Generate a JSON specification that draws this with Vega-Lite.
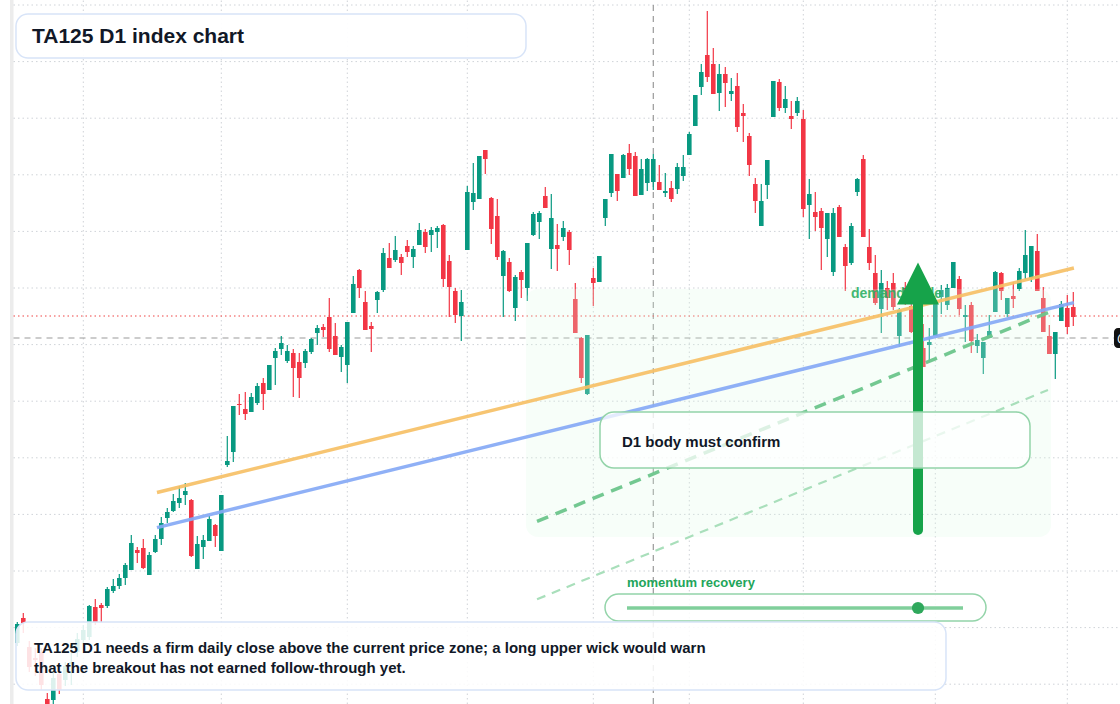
{
"$schema": "https://vega.github.io/schema/vega-lite/v6.json",
"width": 1120, "height": 704, "autosize": {"type": "none"}, "padding": 0,
"background": "white",
"config": {"view": {"stroke": null}},
"data": {"values": [{"note": "annotation"}]},
"datasets": {
"candles": [
{"i":0,"o":2028.5,"h":2039,"l":2027,"c":2038},
{"i":1,"o":2041,"h":2043.5,"l":2033.5,"c":2038.5},
{"i":2,"o":2026.5,"h":2029.5,"l":2014,"c":2016.5},
{"i":3,"o":2021,"h":2026,"l":2012,"c":2020},
{"i":4,"o":2024,"h":2026,"l":2005,"c":2007.5},
{"i":5,"o":2000.5,"h":2003.5,"l":1995,"c":1997},
{"i":6,"o":2000,"h":2014,"l":1998,"c":2011},
{"i":7,"o":2013,"h":2015,"l":2003,"c":2005},
{"i":8,"o":2010,"h":2019,"l":2007,"c":2017},
{"i":9,"o":2018,"h":2027.5,"l":2007.5,"c":2019},
{"i":10,"o":2024,"h":2033.5,"l":2021.5,"c":2030.5},
{"i":11,"o":2030,"h":2037.5,"l":2028,"c":2035},
{"i":12,"o":2031.5,"h":2047.5,"l":2030,"c":2047},
{"i":13,"o":2046.5,"h":2050.5,"l":2037.5,"c":2039},
{"i":14,"o":2047.5,"h":2048.5,"l":2039,"c":2046},
{"i":15,"o":2047,"h":2056.5,"l":2046,"c":2055.5},
{"i":16,"o":2054.5,"h":2060.5,"l":2053.5,"c":2057},
{"i":17,"o":2057,"h":2063,"l":2055.5,"c":2061},
{"i":18,"o":2061,"h":2068.5,"l":2057.5,"c":2067.5},
{"i":19,"o":2065,"h":2082.5,"l":2065,"c":2078.5},
{"i":20,"o":2075,"h":2076.5,"l":2068.5,"c":2073.5},
{"i":21,"o":2076,"h":2080.5,"l":2065.5,"c":2066},
{"i":22,"o":2062.5,"h":2074,"l":2062.5,"c":2072.5},
{"i":23,"o":2074,"h":2082.5,"l":2073.5,"c":2080.5},
{"i":24,"o":2080.5,"h":2091.5,"l":2077.5,"c":2088.5},
{"i":25,"o":2091,"h":2096,"l":2088.5,"c":2094},
{"i":26,"o":2094.5,"h":2103,"l":2094,"c":2099.5},
{"i":27,"o":2098.5,"h":2107,"l":2096,"c":2101},
{"i":28,"o":2102.5,"h":2108.5,"l":2097.5,"c":2104.5},
{"i":29,"o":2100,"h":2100.5,"l":2071.5,"c":2072},
{"i":30,"o":2065.5,"h":2082,"l":2065.5,"c":2078},
{"i":31,"o":2076.5,"h":2082.5,"l":2070.5,"c":2080},
{"i":32,"o":2079.5,"h":2092,"l":2079.5,"c":2090.5},
{"i":33,"o":2087.5,"h":2088,"l":2076.5,"c":2082},
{"i":34,"o":2074.5,"h":2102.5,"l":2074.5,"c":2102.5},
{"i":35,"o":2117.5,"h":2132,"l":2116.5,"c":2119.5},
{"i":36,"o":2124,"h":2147,"l":2119,"c":2147},
{"i":37,"o":2148,"h":2153,"l":2142.5,"c":2147.5},
{"i":38,"o":2145.5,"h":2154,"l":2140,"c":2143},
{"i":39,"o":2144,"h":2153.5,"l":2144,"c":2151.5},
{"i":40,"o":2148.5,"h":2158.5,"l":2147.5,"c":2157},
{"i":41,"o":2158.5,"h":2161,"l":2145,"c":2153},
{"i":42,"o":2155,"h":2167.5,"l":2155,"c":2167.5},
{"i":43,"o":2171,"h":2176,"l":2157.5,"c":2174.5},
{"i":44,"o":2175.5,"h":2182,"l":2172.5,"c":2178.5},
{"i":45,"o":2169.5,"h":2177.5,"l":2168.5,"c":2174.5},
{"i":46,"o":2173.5,"h":2175.5,"l":2151.5,"c":2166},
{"i":47,"o":2169,"h":2173.5,"l":2151,"c":2161},
{"i":48,"o":2168.5,"h":2175.5,"l":2166,"c":2174.5},
{"i":49,"o":2174,"h":2181,"l":2173,"c":2180.5},
{"i":50,"o":2183.5,"h":2187.5,"l":2177.5,"c":2186},
{"i":51,"o":2186.5,"h":2188,"l":2181.5,"c":2185},
{"i":52,"o":2191.5,"h":2201,"l":2174,"c":2175.5},
{"i":53,"o":2182,"h":2188.5,"l":2172.5,"c":2172.5},
{"i":54,"o":2171.5,"h":2177.5,"l":2164,"c":2176.5},
{"i":55,"o":2167.5,"h":2189,"l":2158.5,"c":2189},
{"i":56,"o":2193.5,"h":2212,"l":2193.5,"c":2208},
{"i":57,"o":2215,"h":2215.5,"l":2201,"c":2206},
{"i":58,"o":2199,"h":2204.5,"l":2185,"c":2185},
{"i":59,"o":2187,"h":2189,"l":2174,"c":2185.5},
{"i":60,"o":2200,"h":2204.5,"l":2193.5,"c":2204},
{"i":61,"o":2205,"h":2226,"l":2204,"c":2223.5},
{"i":62,"o":2221,"h":2228.5,"l":2216,"c":2216},
{"i":63,"o":2220,"h":2232,"l":2219,"c":2225},
{"i":64,"o":2221.5,"h":2223,"l":2212.5,"c":2218.5},
{"i":65,"o":2227,"h":2230,"l":2221.5,"c":2224},
{"i":66,"o":2221.5,"h":2227,"l":2216,"c":2225.5},
{"i":67,"o":2227.5,"h":2238.5,"l":2227.5,"c":2235},
{"i":68,"o":2234,"h":2235.5,"l":2223.5,"c":2226.5},
{"i":69,"o":2232.5,"h":2236.5,"l":2224,"c":2235},
{"i":70,"o":2234,"h":2237,"l":2226,"c":2236},
{"i":71,"o":2237.5,"h":2238,"l":2206.5,"c":2210.5},
{"i":72,"o":2219.5,"h":2222.5,"l":2191.5,"c":2206.5},
{"i":73,"o":2204.5,"h":2206,"l":2188.5,"c":2192.5},
{"i":74,"o":2192,"h":2205,"l":2179.5,"c":2199},
{"i":75,"o":2225,"h":2257,"l":2225,"c":2254},
{"i":76,"o":2249,"h":2268.5,"l":2245,"c":2253.5},
{"i":77,"o":2250.5,"h":2272,"l":2250.5,"c":2272},
{"i":78,"o":2275,"h":2275,"l":2263,"c":2270.5},
{"i":79,"o":2251,"h":2251.5,"l":2228,"c":2235.5},
{"i":80,"o":2242,"h":2250.5,"l":2220,"c":2221.5},
{"i":81,"o":2212,"h":2225,"l":2191.5,"c":2224.5},
{"i":82,"o":2219,"h":2221,"l":2204,"c":2204.5},
{"i":83,"o":2196,"h":2212.5,"l":2189.5,"c":2211.5},
{"i":84,"o":2214,"h":2215,"l":2201,"c":2210},
{"i":85,"o":2206,"h":2228.5,"l":2199.5,"c":2228.5},
{"i":86,"o":2232.5,"h":2244,"l":2232,"c":2243},
{"i":87,"o":2239,"h":2244.5,"l":2230.5,"c":2243.5},
{"i":88,"o":2252,"h":2256.5,"l":2246,"c":2246},
{"i":89,"o":2225.5,"h":2253,"l":2215.5,"c":2241},
{"i":90,"o":2227.5,"h":2238,"l":2214.5,"c":2225.5},
{"i":91,"o":2231.5,"h":2239.5,"l":2229.5,"c":2236},
{"i":92,"o":2234,"h":2235,"l":2217.5,"c":2225},
{"i":93,"o":2200.5,"h":2208.5,"l":2183.5,"c":2183.5},
{"i":94,"o":2181,"h":2181.5,"l":2158.5,"c":2161},
{"i":95,"o":2153,"h":2182.5,"l":2152.5,"c":2182.5},
{"i":96,"o":2211,"h":2216,"l":2197,"c":2208.5},
{"i":97,"o":2209,"h":2222,"l":2209,"c":2222},
{"i":98,"o":2241,"h":2250.5,"l":2237,"c":2250.5},
{"i":99,"o":2253.5,"h":2273,"l":2251.5,"c":2273},
{"i":100,"o":2263,"h":2263,"l":2249.5,"c":2254.5},
{"i":101,"o":2261,"h":2273,"l":2261,"c":2272.5},
{"i":102,"o":2273.5,"h":2278,"l":2262.5,"c":2265.5},
{"i":103,"o":2272,"h":2274,"l":2252,"c":2252},
{"i":104,"o":2252.5,"h":2270.5,"l":2252.5,"c":2265.5},
{"i":105,"o":2258.5,"h":2271,"l":2254.5,"c":2270.5},
{"i":106,"o":2259,"h":2273,"l":2255,"c":2270.5},
{"i":107,"o":2259,"h":2267.5,"l":2255,"c":2255},
{"i":108,"o":2253.5,"h":2263.5,"l":2251.5,"c":2254.5},
{"i":109,"o":2256,"h":2259.5,"l":2249,"c":2250.5},
{"i":110,"o":2255.5,"h":2268.5,"l":2253,"c":2266.5},
{"i":111,"o":2262,"h":2272.5,"l":2259.5,"c":2266.5},
{"i":112,"o":2272.5,"h":2284,"l":2272.5,"c":2283},
{"i":113,"o":2287,"h":2302.5,"l":2287,"c":2302.5},
{"i":114,"o":2306.5,"h":2318,"l":2302.5,"c":2314},
{"i":115,"o":2322.5,"h":2344.5,"l":2309,"c":2311.5},
{"i":116,"o":2318,"h":2326,"l":2303,"c":2303},
{"i":117,"o":2303.5,"h":2318,"l":2294.5,"c":2313},
{"i":118,"o":2313,"h":2316.5,"l":2296.5,"c":2308.5},
{"i":119,"o":2303,"h":2311,"l":2299.5,"c":2304.5},
{"i":120,"o":2307,"h":2313.5,"l":2284,"c":2286.5},
{"i":121,"o":2293.5,"h":2298,"l":2279,"c":2292},
{"i":122,"o":2282,"h":2283.5,"l":2262,"c":2267.5},
{"i":123,"o":2258,"h":2261,"l":2243.5,"c":2249.5},
{"i":124,"o":2237,"h":2258,"l":2237,"c":2249.5},
{"i":125,"o":2257.5,"h":2270,"l":2250.5,"c":2270},
{"i":126,"o":2291.5,"h":2309.5,"l":2291.5,"c":2309.5},
{"i":127,"o":2309,"h":2310.5,"l":2294.5,"c":2296},
{"i":128,"o":2296,"h":2307,"l":2293.5,"c":2300.5},
{"i":129,"o":2292,"h":2299.5,"l":2285.5,"c":2290.5},
{"i":130,"o":2293.5,"h":2301.5,"l":2292,"c":2299.5},
{"i":131,"o":2290.5,"h":2295,"l":2241.5,"c":2245.5},
{"i":132,"o":2247.5,"h":2260.5,"l":2230.5,"c":2253},
{"i":133,"o":2244,"h":2254,"l":2234.5,"c":2241.5},
{"i":134,"o":2244.5,"h":2246,"l":2215,"c":2236},
{"i":135,"o":2230.5,"h":2243.5,"l":2221.5,"c":2243.5},
{"i":136,"o":2214,"h":2246,"l":2212,"c":2243.5},
{"i":137,"o":2246.5,"h":2247.5,"l":2231.5,"c":2231.5},
{"i":138,"o":2226.5,"h":2228,"l":2204.5,"c":2217},
{"i":139,"o":2218.5,"h":2238.5,"l":2217.5,"c":2237},
{"i":140,"o":2254,"h":2261,"l":2252,"c":2260.5},
{"i":141,"o":2270.5,"h":2272.5,"l":2231.5,"c":2231.5},
{"i":142,"o":2226.5,"h":2235.5,"l":2215,"c":2218.5},
{"i":143,"o":2213.5,"h":2222.5,"l":2197.5,"c":2198.5},
{"i":144,"o":2195.5,"h":2215,"l":2183.5,"c":2208.5},
{"i":145,"o":2206,"h":2209.5,"l":2195,"c":2201},
{"i":146,"o":2208.5,"h":2213.5,"l":2195,"c":2196.5},
{"i":147,"o":2182,"h":2196,"l":2176.5,"c":2195},
{"i":148,"o":2206,"h":2209,"l":2197.5,"c":2200},
{"i":149,"o":2197,"h":2200,"l":2183.5,"c":2184},
{"i":150,"o":2190,"h":2194,"l":2175,"c":2180},
{"i":151,"o":2176,"h":2188,"l":2166.5,"c":2166.5},
{"i":152,"o":2177.5,"h":2186,"l":2169,"c":2179},
{"i":153,"o":2182,"h":2200,"l":2182,"c":2199},
{"i":154,"o":2201.5,"h":2207.5,"l":2193,"c":2205},
{"i":155,"o":2197.5,"h":2208,"l":2195,"c":2206},
{"i":156,"o":2206,"h":2219,"l":2206,"c":2219},
{"i":157,"o":2210.5,"h":2212,"l":2192.5,"c":2195.5},
{"i":158,"o":2191.5,"h":2197.5,"l":2179,"c":2192.5},
{"i":159,"o":2197.5,"h":2199,"l":2173.5,"c":2179.5},
{"i":160,"o":2177,"h":2183,"l":2173.5,"c":2180},
{"i":161,"o":2171,"h":2179,"l":2163,"c":2179},
{"i":162,"o":2181,"h":2192.5,"l":2181,"c":2184.5},
{"i":163,"o":2194,"h":2214.5,"l":2194,"c":2214},
{"i":164,"o":2213.5,"h":2214,"l":2200,"c":2204.5},
{"i":165,"o":2193,"h":2201,"l":2191.5,"c":2201},
{"i":166,"o":2202,"h":2209,"l":2196,"c":2200.5},
{"i":167,"o":2205.5,"h":2216,"l":2204.5,"c":2214.5},
{"i":168,"o":2213.5,"h":2235,"l":2210.5,"c":2222.5},
{"i":169,"o":2211,"h":2227,"l":2209,"c":2227},
{"i":170,"o":2224.5,"h":2233,"l":2204.5,"c":2204.5},
{"i":171,"o":2201,"h":2206.5,"l":2184,"c":2184},
{"i":172,"o":2182,"h":2187.5,"l":2173,"c":2173},
{"i":173,"o":2173,"h":2184,"l":2160.5,"c":2184},
{"i":174,"o":2189.5,"h":2199.5,"l":2189.5,"c":2198},
{"i":175,"o":2196,"h":2202.5,"l":2183,"c":2186.5},
{"i":176,"o":2196.5,"h":2204,"l":2187,"c":2191.5}
],
"hgrid": [{"p":2347.5},{"p":2319.2},{"p":2290.9},{"p":2262.6},{"p":2234.3},{"p":2206.0},{"p":2177.7},{"p":2149.4},{"p":2121.1},{"p":2092.8},{"p":2064.5},{"p":2036.2},{"p":2007.9}],
"vgrid": [{"i":11},{"i":34},{"i":55},{"i":75},{"i":96},{"i":112},{"i":131},{"i":153},{"i":175}],
"trend": [
{"name":"resistance","i0":23.28,"p0":2103.75,"i1":176.1,"p1":2216},
{"name":"support","i0":23.28,"p0":2086.2,"i1":176.1,"p1":2198.7},
{"name":"channel","i0":86.62,"p0":2089.3,"i1":171.78,"p1":2193.65},
{"name":"lower","i0":86.62,"p0":2050.35,"i1":171.78,"p1":2155}
]
},
"layer": [
{"mark": {"type": "rect", "color": "#ececec"},
 "encoding": {
  "x": {"datum": -1.217, "type": "quantitative", "scale": {"domain": [-2.883, 183.783], "nice": false, "zero": false}, "axis": null},
  "x2": {"datum": -0.633},
  "y": {"datum": 1998, "type": "quantitative", "scale": {"domain": [1998, 2350], "nice": false, "zero": false}, "axis": null},
  "y2": {"datum": 2350}}},
{"data": {"name": "hgrid"},
 "mark": {"type": "rule", "color": "#cfd3d8", "strokeWidth": 1, "strokeDash": [1.5, 3]},
 "encoding": {
  "x": {"datum": -0.633, "type": "quantitative", "scale": {"domain": [-2.883, 183.783], "nice": false, "zero": false}, "axis": null},
  "x2": {"datum": 184},
  "y": {"field": "p", "type": "quantitative", "scale": {"domain": [1998, 2350], "nice": false, "zero": false}, "axis": null}}},
{"data": {"name": "vgrid"},
 "mark": {"type": "rule", "color": "#cfd3d8", "strokeWidth": 1, "strokeDash": [1.5, 3]},
 "encoding": {
  "x": {"field": "i", "type": "quantitative", "scale": {"domain": [-2.883, 183.783], "nice": false, "zero": false}, "axis": null},
  "y": {"datum": 1998, "type": "quantitative", "scale": {"domain": [1998, 2350], "nice": false, "zero": false}, "axis": null},
  "y2": {"datum": 2350}}},
{"mark": {"type": "rule", "color": "#9a9a9a", "strokeWidth": 1.2, "strokeDash": [6, 5]},
 "encoding": {
  "x": {"datum": 106, "type": "quantitative", "scale": {"domain": [-2.883, 183.783], "nice": false, "zero": false}, "axis": null},
  "y": {"datum": 1998, "type": "quantitative", "scale": {"domain": [1998, 2350], "nice": false, "zero": false}, "axis": null},
  "y2": {"datum": 2350}}},
{"mark": {"type": "rule", "color": "#9a9a9a", "strokeWidth": 1.2, "strokeDash": [6, 5]},
 "encoding": {
  "x": {"datum": -0.633, "type": "quantitative", "scale": {"domain": [-2.883, 183.783], "nice": false, "zero": false}, "axis": null},
  "x2": {"datum": 182.8},
  "y": {"datum": 2181, "type": "quantitative", "scale": {"domain": [1998, 2350], "nice": false, "zero": false}, "axis": null}}},
{"mark": {"type": "rule", "color": "#ef4444", "strokeWidth": 1.2, "strokeDash": [1.5, 3]},
 "encoding": {
  "x": {"datum": -0.633, "type": "quantitative", "scale": {"domain": [-2.883, 183.783], "nice": false, "zero": false}, "axis": null},
  "x2": {"datum": 184},
  "y": {"datum": 2192, "type": "quantitative", "scale": {"domain": [1998, 2350], "nice": false, "zero": false}, "axis": null}}},
{"data": {"name": "candles"},
 "mark": {"type": "rule", "strokeWidth": 1.2},
 "encoding": {
  "x": {"field": "i", "type": "quantitative", "scale": {"domain": [-2.883, 183.783], "nice": false, "zero": false}, "axis": null},
  "y": {"field": "l", "type": "quantitative", "scale": {"domain": [1998, 2350], "nice": false, "zero": false}, "axis": null},
  "y2": {"field": "h"},
  "color": {"condition": {"test": "datum.c >= datum.o", "value": "#089981"}, "value": "#f23645"}}},
{"data": {"name": "candles"},
 "mark": {"type": "rule", "strokeWidth": 4.6},
 "encoding": {
  "x": {"field": "i", "type": "quantitative", "scale": {"domain": [-2.883, 183.783], "nice": false, "zero": false}, "axis": null},
  "y": {"field": "o", "type": "quantitative", "scale": {"domain": [1998, 2350], "nice": false, "zero": false}, "axis": null},
  "y2": {"field": "c"},
  "color": {"condition": {"test": "datum.c >= datum.o", "value": "#089981"}, "value": "#f23645"}}},
{"mark": {"type": "rect", "color": "#dcfce7", "opacity": 0.24, "cornerRadius": 12},
 "encoding": {
  "x": {"datum": 84.783, "type": "quantitative", "scale": {"domain": [-2.883, 183.783], "nice": false, "zero": false}, "axis": null},
  "x2": {"datum": 172.283},
  "y": {"datum": 2081.5, "type": "quantitative", "scale": {"domain": [1998, 2350], "nice": false, "zero": false}, "axis": null},
  "y2": {"datum": 2205.5}}},
{"data": {"name": "trend"},
 "transform": [{"filter": "datum.name == 'lower'"}],
 "mark": {"type": "rule", "color": "#a9dfbb", "strokeWidth": 2.2, "strokeDash": [9, 7]},
 "encoding": {
  "x": {"field": "i0", "type": "quantitative", "scale": {"domain": [-2.883, 183.783], "nice": false, "zero": false}, "axis": null},
  "x2": {"field": "i1"},
  "y": {"field": "p0", "type": "quantitative", "scale": {"domain": [1998, 2350], "nice": false, "zero": false}, "axis": null},
  "y2": {"field": "p1"}}},
{"data": {"name": "trend"},
 "transform": [{"filter": "datum.name == 'resistance'"}],
 "mark": {"type": "rule", "color": "#f6c066", "opacity": 0.92, "strokeWidth": 3.5},
 "encoding": {
  "x": {"field": "i0", "type": "quantitative", "scale": {"domain": [-2.883, 183.783], "nice": false, "zero": false}, "axis": null},
  "x2": {"field": "i1"},
  "y": {"field": "p0", "type": "quantitative", "scale": {"domain": [1998, 2350], "nice": false, "zero": false}, "axis": null},
  "y2": {"field": "p1"}}},
{"data": {"name": "trend"},
 "transform": [{"filter": "datum.name == 'support'"}],
 "mark": {"type": "rule", "color": "#86a9f5", "opacity": 0.92, "strokeWidth": 3.5},
 "encoding": {
  "x": {"field": "i0", "type": "quantitative", "scale": {"domain": [-2.883, 183.783], "nice": false, "zero": false}, "axis": null},
  "x2": {"field": "i1"},
  "y": {"field": "p0", "type": "quantitative", "scale": {"domain": [1998, 2350], "nice": false, "zero": false}, "axis": null},
  "y2": {"field": "p1"}}},
{"data": {"name": "trend"},
 "transform": [{"filter": "datum.name == 'channel'"}],
 "mark": {"type": "rule", "color": "#6cc58b", "opacity": 0.95, "strokeWidth": 3.5, "strokeDash": [12, 8]},
 "encoding": {
  "x": {"field": "i0", "type": "quantitative", "scale": {"domain": [-2.883, 183.783], "nice": false, "zero": false}, "axis": null},
  "x2": {"field": "i1"},
  "y": {"field": "p0", "type": "quantitative", "scale": {"domain": [1998, 2350], "nice": false, "zero": false}, "axis": null},
  "y2": {"field": "p1"}}},
{"mark": {"type": "text", "text": "demand node", "font": "Liberation Sans", "fontWeight": "bold", "fontSize": 14, "color": "#2fb064", "opacity": 0.9, "align": "left", "baseline": "alphabetic"},
 "encoding": {
  "x": {"datum": 138.95, "type": "quantitative", "scale": {"domain": [-2.883, 183.783], "nice": false, "zero": false}, "axis": null},
  "y": {"datum": 2201, "type": "quantitative", "scale": {"domain": [1998, 2350], "nice": false, "zero": false}, "axis": null}}},
{"mark": {"type": "rule", "color": "#16a34a", "strokeWidth": 10, "strokeCap": "round"},
 "encoding": {
  "x": {"datum": 150.117, "type": "quantitative", "scale": {"domain": [-2.883, 183.783], "nice": false, "zero": false}, "axis": null},
  "y": {"datum": 2085, "type": "quantitative", "scale": {"domain": [1998, 2350], "nice": false, "zero": false}, "axis": null},
  "y2": {"datum": 2200}}},
{"mark": {"type": "point", "shape": "M0,-1L1,1L-1,1Z", "filled": true, "color": "#16a34a", "opacity": 1, "size": 1764, "strokeWidth": 0},
 "encoding": {
  "x": {"datum": 150.117, "type": "quantitative", "scale": {"domain": [-2.883, 183.783], "nice": false, "zero": false}, "axis": null},
  "y": {"datum": 2208.25, "type": "quantitative", "scale": {"domain": [1998, 2350], "nice": false, "zero": false}, "axis": null}}},
{"mark": {"type": "rect", "fill": "white", "fillOpacity": 0.75, "stroke": "#93d4a9", "strokeWidth": 1.5, "cornerRadius": 14},
 "encoding": {
  "x": {"datum": 97.117, "type": "quantitative", "scale": {"domain": [-2.883, 183.783], "nice": false, "zero": false}, "axis": null},
  "x2": {"datum": 168.783},
  "y": {"datum": 2116, "type": "quantitative", "scale": {"domain": [1998, 2350], "nice": false, "zero": false}, "axis": null},
  "y2": {"datum": 2144}}},
{"mark": {"type": "text", "text": "D1 body must confirm", "font": "Liberation Sans", "fontWeight": "bold", "fontSize": 15, "color": "#111827", "align": "left", "baseline": "alphabetic"},
 "encoding": {
  "x": {"datum": 100.783, "type": "quantitative", "scale": {"domain": [-2.883, 183.783], "nice": false, "zero": false}, "axis": null},
  "y": {"datum": 2126.5, "type": "quantitative", "scale": {"domain": [1998, 2350], "nice": false, "zero": false}, "axis": null}}},
{"mark": {"type": "text", "text": "momentum recovery", "font": "Liberation Sans", "fontWeight": "bold", "fontSize": 13, "color": "#22a55a", "align": "left", "baseline": "alphabetic"},
 "encoding": {
  "x": {"datum": 101.617, "type": "quantitative", "scale": {"domain": [-2.883, 183.783], "nice": false, "zero": false}, "axis": null},
  "y": {"datum": 2056.5, "type": "quantitative", "scale": {"domain": [1998, 2350], "nice": false, "zero": false}, "axis": null}}},
{"mark": {"type": "rect", "fill": "white", "fillOpacity": 0.85, "stroke": "#93d4a9", "strokeWidth": 1.5, "cornerRadius": 13.5},
 "encoding": {
  "x": {"datum": 97.95, "type": "quantitative", "scale": {"domain": [-2.883, 183.783], "nice": false, "zero": false}, "axis": null},
  "x2": {"datum": 161.45},
  "y": {"datum": 2039.5, "type": "quantitative", "scale": {"domain": [1998, 2350], "nice": false, "zero": false}, "axis": null},
  "y2": {"datum": 2053}}},
{"mark": {"type": "rule", "color": "#80cf9b", "strokeWidth": 3.5},
 "encoding": {
  "x": {"datum": 101.617, "type": "quantitative", "scale": {"domain": [-2.883, 183.783], "nice": false, "zero": false}, "axis": null},
  "x2": {"datum": 157.617},
  "y": {"datum": 2046, "type": "quantitative", "scale": {"domain": [1998, 2350], "nice": false, "zero": false}, "axis": null}}},
{"mark": {"type": "point", "shape": "circle", "filled": true, "color": "#2fa85c", "opacity": 1, "size": 150},
 "encoding": {
  "x": {"datum": 150.117, "type": "quantitative", "scale": {"domain": [-2.883, 183.783], "nice": false, "zero": false}, "axis": null},
  "y": {"datum": 2046, "type": "quantitative", "scale": {"domain": [1998, 2350], "nice": false, "zero": false}, "axis": null}}},
{"mark": {"type": "rect", "fill": "white", "fillOpacity": 0.86, "stroke": "#d8e4f8", "strokeWidth": 1.5, "cornerRadius": 12},
 "encoding": {
  "x": {"datum": -0.217, "type": "quantitative", "scale": {"domain": [-2.883, 183.783], "nice": false, "zero": false}, "axis": null},
  "x2": {"datum": 154.783},
  "y": {"datum": 2005, "type": "quantitative", "scale": {"domain": [1998, 2350], "nice": false, "zero": false}, "axis": null},
  "y2": {"datum": 2039}}},
{"mark": {"type": "text", "text": "TA125 D1 needs a firm daily close above the current price zone; a long upper wick would warn", "font": "Liberation Sans", "fontWeight": "bold", "fontSize": 15, "color": "#111827", "align": "left", "baseline": "alphabetic"},
 "encoding": {
  "x": {"datum": 2.783, "type": "quantitative", "scale": {"domain": [-2.883, 183.783], "nice": false, "zero": false}, "axis": null},
  "y": {"datum": 2023.5, "type": "quantitative", "scale": {"domain": [1998, 2350], "nice": false, "zero": false}, "axis": null}}},
{"mark": {"type": "text", "text": "that the breakout has not earned follow-through yet.", "font": "Liberation Sans", "fontWeight": "bold", "fontSize": 15, "color": "#111827", "align": "left", "baseline": "alphabetic"},
 "encoding": {
  "x": {"datum": 2.783, "type": "quantitative", "scale": {"domain": [-2.883, 183.783], "nice": false, "zero": false}, "axis": null},
  "y": {"datum": 2013.5, "type": "quantitative", "scale": {"domain": [1998, 2350], "nice": false, "zero": false}, "axis": null}}},
{"mark": {"type": "rect", "fill": "white", "fillOpacity": 0.95, "stroke": "#d8e4f8", "strokeWidth": 1.5, "cornerRadius": 12},
 "encoding": {
  "x": {"datum": -0.217, "type": "quantitative", "scale": {"domain": [-2.883, 183.783], "nice": false, "zero": false}, "axis": null},
  "x2": {"datum": 84.783},
  "y": {"datum": 2321, "type": "quantitative", "scale": {"domain": [1998, 2350], "nice": false, "zero": false}, "axis": null},
  "y2": {"datum": 2343}}},
{"mark": {"type": "text", "text": "TA125 D1 index chart", "font": "Liberation Sans", "fontWeight": "bold", "fontSize": 21, "color": "#111827", "align": "left", "baseline": "alphabetic"},
 "encoding": {
  "x": {"datum": 2.45, "type": "quantitative", "scale": {"domain": [-2.883, 183.783], "nice": false, "zero": false}, "axis": null},
  "y": {"datum": 2328.5, "type": "quantitative", "scale": {"domain": [1998, 2350], "nice": false, "zero": false}, "axis": null}}},
{"mark": {"type": "rect", "color": "#111111", "cornerRadius": 4},
 "encoding": {
  "x": {"datum": 182.78, "type": "quantitative", "scale": {"domain": [-2.883, 183.783], "nice": false, "zero": false}, "axis": null},
  "x2": {"datum": 190},
  "y": {"datum": 2176, "type": "quantitative", "scale": {"domain": [1998, 2350], "nice": false, "zero": false}, "axis": null},
  "y2": {"datum": 2186}}},
{"mark": {"type": "text", "text": "@", "font": "Liberation Sans", "fontWeight": "bold", "fontSize": 13, "color": "white", "align": "left", "baseline": "middle"},
 "encoding": {
  "x": {"datum": 183.28, "type": "quantitative", "scale": {"domain": [-2.883, 183.783], "nice": false, "zero": false}, "axis": null},
  "y": {"datum": 2181, "type": "quantitative", "scale": {"domain": [1998, 2350], "nice": false, "zero": false}, "axis": null}}}
]
}
